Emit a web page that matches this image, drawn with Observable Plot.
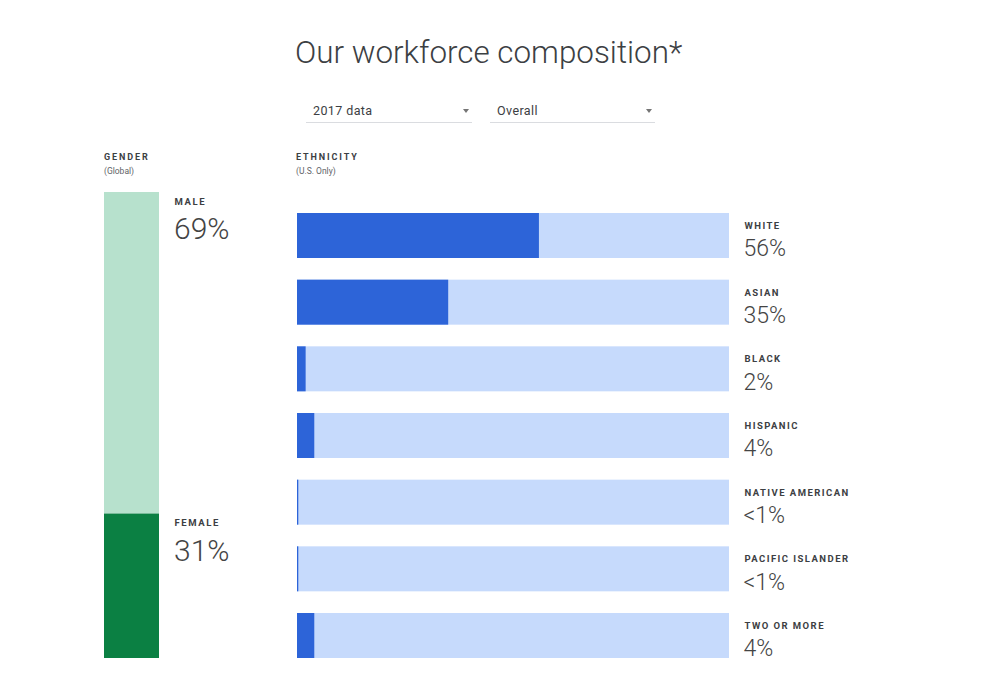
<!DOCTYPE html>
<html>
<head>
<meta charset="utf-8">
<script src="https://cdn.jsdelivr.net/npm/d3@7"></script>
<script src="https://cdn.jsdelivr.net/npm/@observablehq/plot@0.6"></script>
<style>
  html, body { margin: 0; padding: 0; background: #fff; }
  body { width: 996px; height: 696px; position: relative; overflow: hidden; font-family: Roboto, sans-serif; color: #3c4043; }
  .abs { position: absolute; }
  #title { left: 295px; top: 34px; font-size: 31.4px; font-weight: 300; color: #3c4043; white-space: nowrap; }
  .dd { top: 100px; height: 22px; border-bottom: 1px solid #dadce0; font-size: 12.5px; letter-spacing: 0.4px; color: #3c4043; }
  .dd span { position: absolute; left: 7px; top: 3px; }
  .dd i { position: absolute; right: 3px; top: 9px; width: 0; height: 0; border-left: 3.5px solid transparent; border-right: 3.5px solid transparent; border-top: 4px solid #757575; }
  .hdr { font-size: 9px; font-weight: 700; letter-spacing: 1.9px; color: #3c4043; }
  .sub { font-size: 8.5px; color: #5f6368; }
</style>
</head>
<body>
<div id="title" class="abs">Our workforce composition*</div>
<div class="abs dd" style="left:306px;width:166px;"><span>2017 data</span><i></i></div>
<div class="abs dd" style="left:490px;width:165px;"><span>Overall</span><i></i></div>
<div class="abs hdr" style="left:104px;top:152px;">GENDER</div>
<div class="abs sub" style="left:104px;top:166px;">(Global)</div>
<div class="abs hdr" style="left:296px;top:152px;">ETHNICITY</div>
<div class="abs sub" style="left:296px;top:166px;">(U.S. Only)</div>
<div id="gender" class="abs" style="left:104px;top:192px;"></div>
<div id="eth" class="abs" style="left:297px;top:213px;"></div>
<script>
// ---- data ----
const genders = ["MALE", "FEMALE"];
const genderValues = [69, 31];
const genderLabels = ["69%", "31%"];
const genderColors = ["#b7e1cd", "#0b8043"];

const ethnicities = ["WHITE", "ASIAN", "BLACK", "HISPANIC", "NATIVE AMERICAN", "PACIFIC ISLANDER", "TWO OR MORE"];
const ethnicityValues = [56, 35, 2, 4, 0.3, 0.3, 4];
const ethnicityLabels = ["56%", "35%", "2%", "4%", "<1%", "<1%", "4%"];

function spaceNames(plot, spacing) {
  const groups = plot.querySelectorAll('g[aria-label="text"]');
  if (groups.length) groups[0].setAttribute("letter-spacing", spacing);
}

// ---- gender chart ----
const genderData = genders.map((g, i) => ({group: "Global", gender: g, value: genderValues[i], label: genderLabels[i]}));
const gPlot = Plot.plot({
  width: 160, height: 476,
  marginTop: 0, marginBottom: 10, marginLeft: 0, marginRight: 105,
  style: {fontFamily: "Roboto, sans-serif", background: "transparent"},
  x: {type: "band", domain: ["Global"], padding: 0, round: false, axis: null},
  y: {domain: [0, 100], reverse: true, axis: null},
  color: {domain: genders, range: genderColors},
  marks: [
    Plot.barY(genderData, {x: "group", y: "value", fill: "gender"}),
    Plot.text(genderData, Plot.stackY1({x: "group", y: "value", text: "gender", dx: 42.5, dy: 9, textAnchor: "start", fontSize: 9.5, fontWeight: 700, fill: "#3c4043"})),
    Plot.text(genderData, Plot.stackY1({x: "group", y: "value", text: "label", dx: 42, dy: 37, textAnchor: "start", fontSize: 30, fontWeight: 300, fill: "#444"}))
  ]
});
spaceNames(gPlot, "1.6");
document.getElementById("gender").appendChild(gPlot);

// ---- ethnicity chart ----
const ethData = ethnicities.map((e, i) => ({eth: e, value: ethnicityValues[i], label: ethnicityLabels[i], total: 100}));
const ePlot = Plot.plot({
  width: 600, height: 457,
  marginTop: 0, marginBottom: 12, marginLeft: 0, marginRight: 168,
  style: {fontFamily: "Roboto, sans-serif", background: "transparent"},
  x: {domain: [0, 100], axis: null},
  y: {type: "band", domain: ethnicities, paddingInner: 0.325, paddingOuter: 0, round: false, axis: null},
  marks: [
    Plot.barX(ethData, {y: "eth", x: "total", fill: "#c6dafc"}),
    Plot.barX(ethData, {y: "eth", x: "value", fill: "#2d64d8"}),
    Plot.text(ethData, {y: "eth", x: "total", text: "eth", dx: 15, dy: -10, textAnchor: "start", fontSize: 9.5, fontWeight: 700, fill: "#3c4043"}),
    Plot.text(ethData, {y: "eth", x: "total", text: "label", dx: 14, dy: 13, textAnchor: "start", fontSize: 23, fontWeight: 300, fill: "#444"})
  ]
});
spaceNames(ePlot, "1.45");
document.getElementById("eth").appendChild(ePlot);
</script>
</body>
</html>
